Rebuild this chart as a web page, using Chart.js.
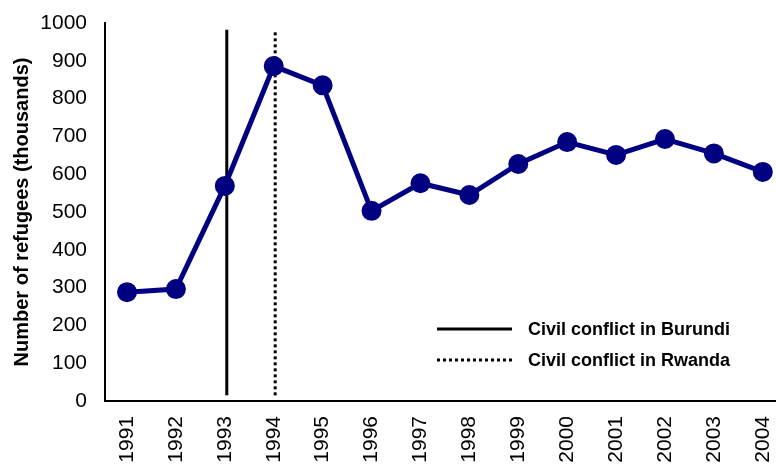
<!DOCTYPE html>
<html>
<head>
<meta charset="utf-8">
<script src="https://cdn.jsdelivr.net/npm/chart.js@4/dist/chart.umd.min.js"></script>
<style>
  html, body { margin: 0; padding: 0; background: #fff; }
  #wrap { width: 776px; height: 468px; }
</style>
</head>
<body>
<div id="wrap"><canvas id="myChart" width="776" height="468"></canvas></div>
<script>
// Years and refugee counts (thousands)
const years = [1991, 1992, 1993, 1994, 1995, 1996, 1997, 1998, 1999, 2000, 2001, 2002, 2003, 2004]
const refugees = [288, 296, 569, 886, 835, 503, 576, 545, 627, 685, 651, 693, 655, 606]

// Conflict markers: year position and vertical extent
const burundiX = 1993.04
const rwandaX = 1994.03
const markerSpan = [15, 982]

const yTicks = [0, 100, 200, 300, 400, 500, 600, 700, 800, 900, 1000]

const font = 'Liberation Sans, Arial, sans-serif'

// Draw the little legend inside the plot, bottom right
const insideLegend = {
  id: 'insideLegend',
  afterDraw(chart) {
    let ctx = chart.ctx
    let rows = chart.data.datasets.filter(d => d.showInLegend)
    ctx.save()
    rows.forEach((d, i) => {
      let y = 329 + i * 31
      ctx.beginPath()
      ctx.strokeStyle = d.borderColor
      ctx.lineWidth = d.borderWidth
      ctx.setLineDash(d.borderDash || [])
      ctx.moveTo(437, y)
      ctx.lineTo(512, y)
      ctx.stroke()
      ctx.setLineDash([])
      ctx.fillStyle = '#000'
      ctx.font = 'bold 18px ' + font
      ctx.textBaseline = 'middle'
      ctx.fillText(d.label, 528, y + 1)
    })
    ctx.restore()
  }
}

new Chart('myChart', {
  type: 'line',
  data: {
    datasets: [{
      label: 'Refugees',
      data: years.map((y, i) => ({ x: y, y: refugees[i] })),
      borderColor: '#000080',
      backgroundColor: '#000080',
      borderWidth: 5,
      pointRadius: 7.5,
      pointHoverRadius: 7.5,
      fill: false
    }, {
      label: 'Civil conflict in Burundi',
      showInLegend: true,
      data: markerSpan.map(v => ({ x: burundiX, y: v })),
      borderColor: '#000',
      borderWidth: 3,
      pointRadius: 0
    }, {
      label: 'Civil conflict in Rwanda',
      showInLegend: true,
      data: markerSpan.map(v => ({ x: rwandaX, y: v })),
      borderColor: '#000',
      borderWidth: 3,
      borderDash: [3, 3],
      pointRadius: 0
    }]
  },
  options: {
    responsive: false,
    animation: false,
    layout: { autoPadding: false, padding: { top: 23, right: 0, left: 0, bottom: 0 } },
    plugins: {
      legend: { display: false },
      tooltip: { enabled: false }
    },
    scales: {
      x: {
        type: 'linear',
        min: 1990.55,
        max: 2004.27,
        grid: { display: false, drawTicks: false },
        border: { display: true, color: '#000', width: 2 },
        afterBuildTicks(scale) {
          scale.ticks = years.map(v => ({ value: v }))
        },
        afterFit(scale) {
          scale.height = 67
          scale.paddingLeft = 0
          scale.paddingRight = 0
        },
        ticks: {
          autoSkip: false,
          minRotation: 90,
          maxRotation: 90,
          padding: 15,
          color: '#000',
          font: { family: font, size: 21 },
          callback: v => String(v)
        }
      },
      y: {
        min: 0,
        max: 1000,
        grid: { display: false, drawTicks: false },
        border: { display: true, color: '#000', width: 2 },
        afterBuildTicks(scale) {
          scale.ticks = yTicks.map(v => ({ value: v }))
        },
        afterFit(scale) {
          scale.width = 105
          scale.paddingTop = 0
          scale.paddingBottom = 0
        },
        ticks: {
          padding: 18,
          color: '#000',
          font: { family: font, size: 21 },
          callback: v => String(v)
        },
        title: {
          display: true,
          text: 'Number of refugees (thousands)',
          color: '#000',
          padding: { top: 10, bottom: 0 },
          font: { family: font, size: 20, weight: 'bold' }
        }
      }
    }
  },
  plugins: [insideLegend]
})
</script>
</body>
</html>
